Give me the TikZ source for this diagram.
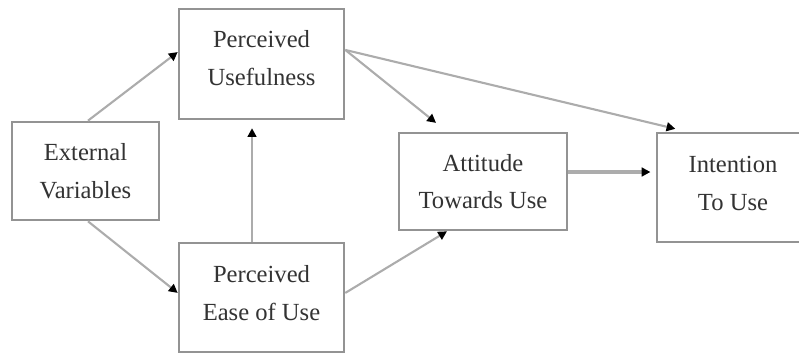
\documentclass[tikz,border=0pt]{standalone}
\usepackage{fontspec}
\setmainfont{Liberation Serif}
\usepackage{tikz}
\usetikzlibrary{positioning,arrows.meta}
\usepackage{xcolor}

\tikzset{
  box/.style={draw=gray!85,line width=1.5pt,fill=white,align=center,text=black!80,
    inner sep=0pt,font=\fontsize{14}{21.5}\selectfont},
  link/.style={draw=gray!65,line width=1.2pt,-{Triangle[black,length=5pt,width=5pt]}}
}

\begin{document}
\begin{tikzpicture}[x=0.02cm,y=-0.02cm]
\clip (0,0) rectangle (799,354);
\node[box,minimum width=2.94cm,minimum height=1.96cm] (ev) at (85.5,171) {External\\Variables};
\node[box,minimum width=3.3cm,minimum height=2.2cm,text depth=7pt] (pu) at (261.5,64) {Perceived\\Usefulness};
\node[box,minimum width=3.3cm,minimum height=2.18cm,text depth=5pt] (peou) at (261.5,297.5) {Perceived\\Ease of Use};
\node[box,minimum width=3.36cm,minimum height=1.94cm] (atu) at (483,181.5) {Attitude\\Towards Use};
\node[box,minimum width=3.04cm,minimum height=2.18cm,text depth=5pt] (itu) at (733,187.5) {Intention\\To Use};
\coordinate (atuout) at ([yshift=5.4pt]atu.east);
\draw[link] ([xshift=1.4pt]ev.north) -- ([yshift=6.8pt]pu.west);
\draw[link] ([xshift=1.4pt]ev.south) -- ([yshift=2.6pt]peou.west);
\draw[link,shorten >=4.5pt] ([xshift=-5.4pt]peou.north) -- ([xshift=-5.4pt]pu.south);
\draw[link,shorten >=8pt] ([yshift=8pt]pu.east) -- ([xshift=-20.5pt]atu.north);
\draw[link,shorten >=7pt] ([yshift=8pt]pu.east) -- ([xshift=-26pt]itu.north);
\draw[link] ([yshift=2.6pt]peou.east) -- ([xshift=-20.5pt]atu.south);
\draw[link,line width=1.8pt,shorten >=3pt] (atuout) -- (atuout -| itu.west);
\end{tikzpicture}
\end{document}
